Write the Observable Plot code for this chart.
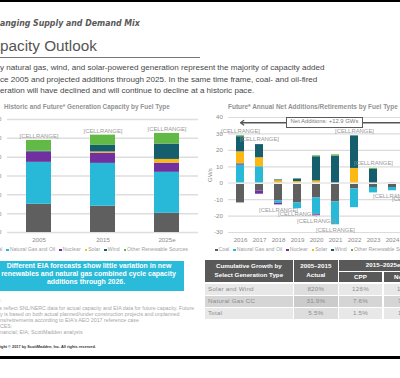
<!DOCTYPE html>
<html>
<head>
<meta charset="utf-8">
<script src="https://cdn.jsdelivr.net/npm/d3@7"></script>
<script src="https://cdn.jsdelivr.net/npm/@observablehq/plot@0.6"></script>
<style>
  html, body { margin: 0; padding: 0; background: #fff; }
  #slide { position: relative; width: 400px; height: 378px; overflow: hidden; background: #fff; font-family: "Liberation Sans", Arial, sans-serif; }
  #slide .abs { position: absolute; white-space: pre; }
  #slide svg { position: absolute; }
</style>
</head>
<body>
<div id="slide"></div>
<script>
// ---------------- data ----------------
const fuels = ["Coal", "Natural Gas and Oil", "Nuclear", "Solar", "Wind", "Other Renewable Sources"];
const fuelColors = ["#5f5f5f", "#27b9d7", "#7030a0", "#fdb913", "#155e6d", "#63b946"];

// Left chart: installed capacity (GW)
const capacityYears   = ["2005", "2015", "2025e"];
const capacityCoal    = [300, 279, 204];
const capacityGasOil  = [445, 455, 435];
const capacityNuclear = [109, 109, 98];
const capacitySolar   = [0, 12, 39];
const capacityWind    = [9, 70, 163];
const capacityOther   = [115, 109, 113];
const capacityTicks   = [0, 200, 400, 600, 800, 1000, 1200];

// Right chart: annual net additions / retirements (GW)
const netYears   = ["2016", "2017", "2018", "2019", "2020", "2021", "2022", "2023", "2024", "2025"];
const netCoal    = [-12, -4.7, -10.8, -12, -9, -11.4, -3.5, -2.6, -2.6, -3];
const netGasOil  = [11, 10, -1.4, -3.5, -10.2, -13.9, -11.4, -3.3, -2.0, -3.7];
const netNuclear = [0.8, -2.0, -1.0, 0, -0.6, 0, 0, 0, 0, 0];
const netSolar   = [7.3, 5.5, 1.5, 1, 1.4, 0, 9, 0, 0, 1];
const netWind    = [9.2, 8, 0.5, 1.6, 14.7, 16.5, 19.8, 8.4, 0, 2];
const netOther   = [0.6, 0, 0, 0, 0.6, 0.8, 0, 0.6, 0, 0];
const netTicks   = [-30, -20, -10, 0, 10, 20, 30, 40];
const netAnnotation = {text: "Net Additions: +12.9 GWs", from: "2020", ends: ["2016", "2025"], level: 36.8};
const barLabel = "[CELLRANGE]";

// Texts
const kicker = "Changing Supply and Demand Mix";
const pageTitle = "Capacity Outlook";
const paragraph = [
  "Today natural gas, wind, and solar-powered generation represent the majority of capacity added",
  "since 2005 and projected additions through 2025. In the same time frame, coal- and oil-fired",
  "generation will have declined and will continue to decline at a historic pace."
];
const leftTitle = "Historic and Future* Generation Capacity by Fuel Type";
const rightTitle = "Future* Annual Net Additions/Retirements by Fuel Type";
const callout = [
  "Different EIA forecasts show little variation in new",
  "renewables and natural gas combined cycle capacity",
  "additions through 2026."
];
const notes = [
  "Notes:",
  "* Values reflect SNL/NERC data for actual capacity and EIA data for future capacity. Future",
  "capacity is based on both actual planned/under construction projects and unplanned",
  "additions/retirements according to EIA's AEO 2017 reference case",
  "SOURCES:",
  "SNL Financial; EIA; ScottMadden analysis"
];
const copyright = "Copyright © 2017 by ScottMadden, Inc. All rights reserved.";

const tableHead1 = ["Cumulative Growth by", "Select Generation Type"];
const tableHead2 = ["2005–2015", "Actual"];
const tableHead3 = "2015–2025e";
const tableSub = ["CPP", "No CPP"];
const tableRowNames = ["Solar and Wind", "Natural Gas CC", "Total"];
const tableActual = ["820%", "31.9%", "5.5%"];
const tableCpp = ["126%", "7.6%", "1.5%"];
const tableNoCpp = ["133%", "7.9%", "1.6%"];

// ---------------- helpers ----------------
const slide = document.getElementById("slide");
const FONT = '"Liberation Sans", Arial, sans-serif';

function measure(text, st) {
  const s = document.createElement("span");
  Object.assign(s.style, {position: "absolute", visibility: "hidden", whiteSpace: "pre",
    fontFamily: st.family, fontSize: st.size + "px", fontWeight: st.weight, fontStyle: st.style, letterSpacing: st.ls + "px"});
  s.textContent = text;
  document.body.appendChild(s);
  const w = s.getBoundingClientRect().width;
  document.body.removeChild(s);
  return w;
}
function label(text, o) {
  const st = {family: o.family || FONT, weight: o.weight || "normal", style: o.italic ? "italic" : "normal", ls: o.ls || 0, size: o.size || 10};
  const cut = o.cut || 0;
  const visible = text.slice(cut);
  if (o.fit) {
    const w = measure(visible, {...st, size: 20});
    st.size = 20 * o.fit / w;
  }
  const pre = cut ? measure(text.slice(0, cut), st) : 0;
  const vis = measure(visible, st);
  let left = o.x - pre;
  if (o.anchor === "middle") left = o.x - vis / 2;
  const d = document.createElement("div");
  d.className = "abs";
  d.textContent = text;
  Object.assign(d.style, {left: left + "px", top: (o.y - 0.55 * st.size) + "px", fontFamily: st.family,
    fontSize: st.size + "px", fontWeight: st.weight, fontStyle: st.style, letterSpacing: st.ls + "px",
    lineHeight: st.size + "px", color: o.color || "#333"});
  slide.appendChild(d);
  return {size: st.size, width: vis};
}
function box(x, y, w, h, bg, extra) {
  const d = document.createElement("div");
  d.className = "abs";
  Object.assign(d.style, {left: x + "px", top: y + "px", width: w + "px", height: h + "px", background: bg, boxSizing: "border-box"}, extra || {});
  slide.appendChild(d);
  return d;
}
function legend(x0, y, names, colors) {
  let x = x0;
  names.forEach((n, i) => {
    box(x, y - 1.4, 2.7, 2.7, colors[i]);
    x += 3.5;
    const r = label(n, {x, y, size: 5.2, color: "#a0a0a0"});
    x += r.width + 4;
  });
}

// ---------------- slide frame & header ----------------
box(0, 0, 400, 2, "#000");
box(0, 356, 400, 3, "#000");
label(kicker, {x: 0, y: 24, cut: 2, fit: 140, weight: "bold", italic: true, color: "#595959",
  family: '"Liberation Sans Narrow","DejaVu Sans Condensed","Liberation Sans",sans-serif'});
label(pageTitle, {x: 0, y: 46, cut: 2, fit: 97, color: "#555"});
box(0, 57, 200, 1, "#777");
const para = label(paragraph[1], {x: 0, y: 80, cut: 3, fit: 318, color: "#474747"});
label(paragraph[0], {x: 0, y: 68.5, cut: 4, size: para.size, color: "#474747"});
label(paragraph[2], {x: 0, y: 91.5, cut: 3, size: para.size, color: "#474747"});

label(leftTitle, {x: 4, y: 107.5, fit: 166, weight: "bold", color: "#939393"});
label(rightTitle, {x: 228, y: 107.5, fit: 170, weight: "bold", color: "#939393"});

// ---------------- left chart ----------------
const capSeries = [capacityCoal, capacityGasOil, capacityNuclear, capacitySolar, capacityWind, capacityOther];
const capacityData = capacityYears.flatMap((year, i) => capSeries.map((arr, k) => ({year, fuel: fuels[k], value: arr[i]})));
const capacityTotals = capacityYears.map((year, i) => ({year, total: d3.sum(capSeries, a => a[i])}));

const leftPlot = Plot.plot({
  width: 228, height: 150,
  marginLeft: 37, marginRight: 0, marginTop: 19, marginBottom: 18,
  style: {fontFamily: FONT, background: "transparent", overflow: "visible"},
  x: {domain: capacityYears, paddingInner: 0.61, paddingOuter: 0.297},
  y: {domain: [0, 1200]},
  color: {domain: fuels, range: fuelColors},
  marks: [
    Plot.gridY(capacityTicks, {stroke: "#dedede", strokeOpacity: 1, strokeWidth: 1.5}),
    Plot.barY(capacityData, {x: "year", y: "value", fill: "fuel"}),
    Plot.axisY(capacityTicks, {tickSize: 0, tickPadding: 6, label: null, fontSize: 6.2, color: "#8c8c8c"}),
    Plot.axisX({tickSize: 0, tickPadding: 5, label: null, fontSize: 6.2, color: "#8c8c8c"}),
    Plot.text(capacityTotals, {x: "year", y: "total", text: () => barLabel, dy: -4, fontSize: 5.9, fill: "#9a9a9a"})
  ]
});
leftPlot.style.left = "-30px";
leftPlot.style.top = "100px";
slide.appendChild(leftPlot);

// ---------------- right chart ----------------
const netSeries = [netCoal, netGasOil, netNuclear, netSolar, netWind, netOther];
const netData = netYears.flatMap((year, i) => netSeries.map((arr, k) => ({year, fuel: fuels[k], value: arr[i]})));
const netLabels = netYears.map((year, i) => {
  const pos = d3.sum(netSeries, a => Math.max(0, a[i]));
  const neg = d3.sum(netSeries, a => Math.min(0, a[i]));
  return {year, up: pos >= -neg, y: pos >= -neg ? pos : neg};
});
const arrows = netAnnotation.ends.map(e => ({from: netAnnotation.from, to: e, level: netAnnotation.level}));

const rightPlot = Plot.plot({
  width: 233, height: 150,
  marginLeft: 38, marginRight: 0, marginTop: 17, marginBottom: 18,
  style: {fontFamily: FONT, background: "transparent", overflow: "visible"},
  x: {domain: netYears, paddingInner: 0.584, paddingOuter: 0.353},
  y: {domain: [-30, 40]},
  color: {domain: fuels, range: fuelColors},
  marks: [
    Plot.gridY(netTicks, {stroke: "#dcdcdc", strokeOpacity: 1, strokeWidth: 1.2}),
    Plot.barY(netData, {x: "year", y: "value", fill: "fuel"}),
    Plot.ruleY([0], {stroke: "#ececec", strokeWidth: 1.6}),
    Plot.axisY(netTicks, {tickSize: 0, tickPadding: 5.5, tickFormat: d => String(d), label: "GWs", labelAnchor: "center", labelOffset: 21, labelArrow: false, fontSize: 6.2, color: "#8c8c8c"}),
    Plot.axisX({tickSize: 0, tickPadding: 5, label: null, fontSize: 6.2, color: "#8c8c8c"}),
    Plot.text(netLabels.filter(d => d.up), {x: "year", y: "y", text: () => barLabel, dy: -5, fontSize: 5.9, fill: "#9a9a9a"}),
    Plot.text(netLabels.filter(d => !d.up), {x: "year", y: "y", text: () => barLabel, dy: 5, fontSize: 5.9, fill: "#9a9a9a"}),
    Plot.arrow(arrows, {x1: "from", x2: "to", y1: "level", y2: "level", stroke: "#555", strokeWidth: 1.3, headLength: 4.5, headAngle: 70})
  ]
});
rightPlot.style.left = "190px";
rightPlot.style.top = "100px";
slide.appendChild(rightPlot);

// annotation box
box(286, 116.7, 77, 11, "#fff", {border: "1.3px solid #5a5a5a"});
label(netAnnotation.text, {x: 324.5, y: 122.3, anchor: "middle", fit: 68, color: "#7a7a7a"});

// ---------------- legends ----------------
legend(-12, 250, fuels, fuelColors);
legend(215, 250, fuels, fuelColors);

// ---------------- callout ----------------
box(-10, 261, 194, 30, "#29bbd9");
const cs = label(callout[0], {x: 89, y: 267, anchor: "middle", fit: 165, weight: "bold", color: "#fff"});
label(callout[1], {x: 88.5, y: 275.3, anchor: "middle", size: cs.size, weight: "bold", color: "#fff"});
label(callout[2], {x: 86, y: 283.3, anchor: "middle", size: cs.size, weight: "bold", color: "#fff"});

// ---------------- notes ----------------
const ncut = notes[1].indexOf(" reflect");
const ns = label(notes[1], {x: 2, y: 308.7, cut: ncut, fit: 193, color: "#a6a6a6"});
label(notes[0], {x: 0, y: 301, cut: 5, size: ns.size, color: "#a6a6a6"});
label(notes[2], {x: 0, y: 314.7, cut: 7, size: ns.size, color: "#a6a6a6"});
label(notes[3], {x: 0, y: 320.7, cut: 7, size: ns.size, color: "#a6a6a6"});
label(notes[4], {x: 0, y: 326.7, cut: 4, size: ns.size, color: "#a6a6a6"});
label(notes[5], {x: 0, y: 333.3, cut: 6, size: ns.size, color: "#a6a6a6"});
label(copyright, {x: 0, y: 348.3, cut: 5, fit: 96, weight: "bold", color: "#333"});

// ---------------- table ----------------
const HEAD = "#595959";
const colX = [205, 294, 339, 383.7];
const colW = [87.7, 43.7, 43, 43.5];
box(colX[0], 260, colW[0], 22.3, HEAD);
box(colX[1], 260, colW[1], 22.3, HEAD);
box(colX[2], 260, colW[2] + 1.7 + colW[3], 11, HEAD);
box(colX[2], 272, colW[2], 10.3, HEAD);
box(colX[3], 272, colW[3], 10.3, HEAD);
const hs = label(tableHead1[0], {x: colX[0] + colW[0] / 2, y: 266, anchor: "middle", fit: 66, weight: "bold", color: "#fff"});
label(tableHead1[1], {x: colX[0] + colW[0] / 2, y: 275, anchor: "middle", size: hs.size, weight: "bold", color: "#fff"});
label(tableHead2[0], {x: colX[1] + colW[1] / 2, y: 266, anchor: "middle", size: hs.size, weight: "bold", color: "#fff"});
label(tableHead2[1], {x: colX[1] + colW[1] / 2, y: 275, anchor: "middle", size: hs.size, weight: "bold", color: "#fff"});
label(tableHead3, {x: (colX[2] + colX[3] + colW[3]) / 2, y: 265.5, anchor: "middle", size: hs.size, weight: "bold", color: "#fff"});
label(tableSub[0], {x: colX[2] + colW[2] / 2, y: 277, anchor: "middle", size: hs.size, weight: "bold", color: "#fff"});
label(tableSub[1], {x: colX[3] + colW[3] / 2, y: 277, anchor: "middle", size: hs.size, weight: "bold", color: "#fff"});
const rowBg = ["#e8e8e8", "#d5d5d5", "#e8e8e8"];
const rowBgDark = ["#dddddd", "#cbcbcb", "#dddddd"];
tableRowNames.forEach((name, i) => {
  const y = 284.3 + i * 12;
  box(colX[0], y, colW[0], 10.3, rowBg[i]);
  box(colX[1], y, colW[1], 10.3, rowBgDark[i]);
  box(colX[2], y, colW[2], 10.3, rowBg[i]);
  box(colX[3], y, colW[3], 10.3, rowBg[i]);
  const cy = y + 5.2;
  label(name, {x: 208, y: cy, size: 6.2, ls: 0.25, color: "#8c8c8c"});
  label(tableActual[i], {x: colX[1] + colW[1] / 2, y: cy, anchor: "middle", size: 6.2, ls: 0.25, color: "#8c8c8c"});
  label(tableCpp[i], {x: colX[2] + colW[2] / 2, y: cy, anchor: "middle", size: 6.2, ls: 0.25, color: "#8c8c8c"});
  label(tableNoCpp[i], {x: colX[3] + colW[3] / 2, y: cy, anchor: "middle", size: 6.2, ls: 0.25, color: "#8c8c8c"});
});
</script>
</body>
</html>
